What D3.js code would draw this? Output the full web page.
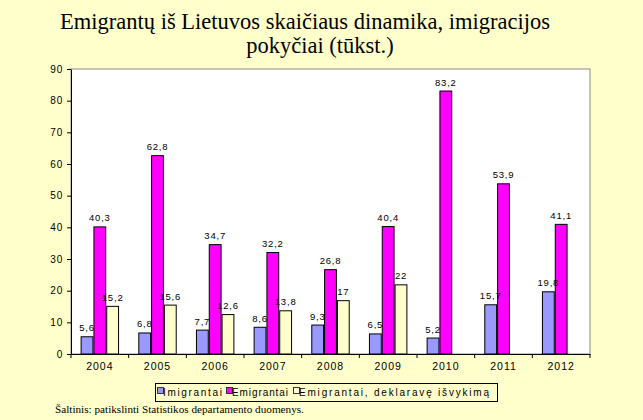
<!DOCTYPE html>
<html><head><meta charset="utf-8">
<script src="https://cdn.jsdelivr.net/npm/d3@7"></script>
<style>
html,body{margin:0;padding:0;background:#FFFFCC;}
svg{display:block;}
</style></head>
<body>
<script>
const years = ["2004","2005","2006","2007","2008","2009","2010","2011","2012"];
const seriesNames = ["Imigrantai","Emigrantai","Emigrantai, deklaravę išvykimą"];
const imigrantai = [5.6, 6.8, 7.7, 8.6, 9.3, 6.5, 5.2, 15.7, 19.8];
const emigrantai = [40.3, 62.8, 34.7, 32.2, 26.8, 40.4, 83.2, 53.9, 41.1];
const deklarave  = [15.2, 15.6, 12.6, 13.8, 17, 22, null, null, null];
const yTicks = [0,10,20,30,40,50,60,70,80,90];
const colors = ["#9999FF","#FF00FF","#FFFFCC"];
const titleLines = ["Emigrantų iš Lietuvos skaičiaus dinamika, imigracijos","pokyčiai (tūkst.)"];
const sourceText = "Šaltinis: patikslinti  Statistikos departamento duomenys.";

const W = 643, H = 420;
const plot = {left:71, right:590, top:69, bottom:354};
const svg = d3.select("body").append("svg").attr("width",W).attr("height",H);
svg.append("rect").attr("width",W).attr("height",H).attr("fill","#FFFFCC");

const serif = "'Liberation Serif','Times New Roman',serif";
const sans = "'Liberation Sans',Arial,sans-serif";
svg.append("text").attr("x",305).attr("y",29).attr("text-anchor","middle")
  .attr("font-family",serif).attr("font-size",22.5).attr("fill","#000")
  .text(titleLines[0]);
svg.append("text").attr("x",320).attr("y",53).attr("text-anchor","middle")
  .attr("font-family",serif).attr("font-size",22.5).attr("fill","#000")
  .text(titleLines[1]);

svg.append("rect").attr("x",plot.left).attr("y",plot.top)
  .attr("width",plot.right-plot.left).attr("height",plot.bottom-plot.top)
  .attr("fill","#fff").attr("stroke","#8a8a8a").attr("stroke-width",1);

const x0 = d3.scaleBand().domain(years).range([plot.left, plot.right]).paddingInner(0).paddingOuter(0);
const x1 = d3.scaleBand().domain(seriesNames).range([0, x0.bandwidth()]).paddingInner(0).paddingOuter(0.75);
const y = d3.scaleLinear().domain([0,90]).range([plot.bottom, plot.top]);

const allSeries = [imigrantai, emigrantai, deklarave];
const fmt = v => String(v).replace(".", ",");

const g = svg.append("g");
allSeries.forEach((vals, si) => {
  years.forEach((yr, i) => {
    const v = vals[i];
    if (v === null || v === undefined) return;
    const bx = x0(yr) + x1(seriesNames[si]);
    g.append("rect").attr("x",bx+0.5).attr("y",y(v)+0.5)
      .attr("width",x1.bandwidth()-1).attr("height",y(0)-y(v)-0.5)
      .attr("fill",colors[si]).attr("stroke","#000").attr("stroke-width",1);
  });
});
allSeries.forEach((vals, si) => {
  years.forEach((yr, i) => {
    const v = vals[i];
    if (v === null || v === undefined) return;
    const bx = x0(yr) + x1(seriesNames[si]);
    g.append("text").attr("x",bx + x1.bandwidth()/2).attr("y",y(v)-5)
      .attr("text-anchor","middle").attr("font-family",sans)
      .attr("font-size",9.5).attr("letter-spacing",0.8).attr("fill","#000").text(fmt(v));
  });
});

const yAxis = d3.axisLeft(y).tickValues(yTicks).tickSize(4).tickSizeOuter(0).tickPadding(4);
const ya = svg.append("g").attr("transform",`translate(${plot.left},0)`).call(yAxis);
ya.select(".domain").attr("stroke","#000");
ya.selectAll("text").attr("font-family",sans).attr("font-size",10).attr("letter-spacing",0.8).attr("fill","#000");

const xAxis = d3.axisBottom(x0).tickSize(0).tickPadding(9);
const xa = svg.append("g").attr("transform",`translate(0,${plot.bottom})`).call(xAxis);
xa.select(".domain").attr("stroke","#000");
xa.selectAll("text").attr("font-family",sans).attr("font-size",10.5).attr("letter-spacing",1).attr("fill","#000");
const bounds = years.map(yr => x0(yr)).concat([plot.right]);
xa.selectAll("line.bt").data(bounds).enter().append("line").attr("class","bt")
  .attr("x1",d=>d).attr("x2",d=>d).attr("y1",0).attr("y2",4).attr("stroke","#000");

// legend
const leg = svg.append("g");
leg.append("rect").attr("x",155.5).attr("y",383.5).attr("width",342).attr("height",18)
  .attr("fill","#FFFFCC").attr("stroke","#000").attr("stroke-width",1);
const legX = [157, 226, 293];
const legW = [59, 56, 190];
seriesNames.forEach((n, i) => {
  leg.append("rect").attr("x",legX[i]+0.5).attr("y",387.5).attr("width",6).attr("height",6)
    .attr("fill",colors[i]).attr("stroke","#333").attr("stroke-width",1);
  leg.append("text").attr("x",legX[i]+6).attr("y",396)
    .attr("font-family",sans).attr("font-size",10)
    .attr("textLength",legW[i]).attr("lengthAdjust","spacing")
    .attr("fill","#000").text(n);
});

svg.append("text").attr("x",55).attr("y",413)
  .attr("font-family",serif).attr("font-size",11.2).attr("fill","#000")
  .text(sourceText);
</script>
</body></html>
